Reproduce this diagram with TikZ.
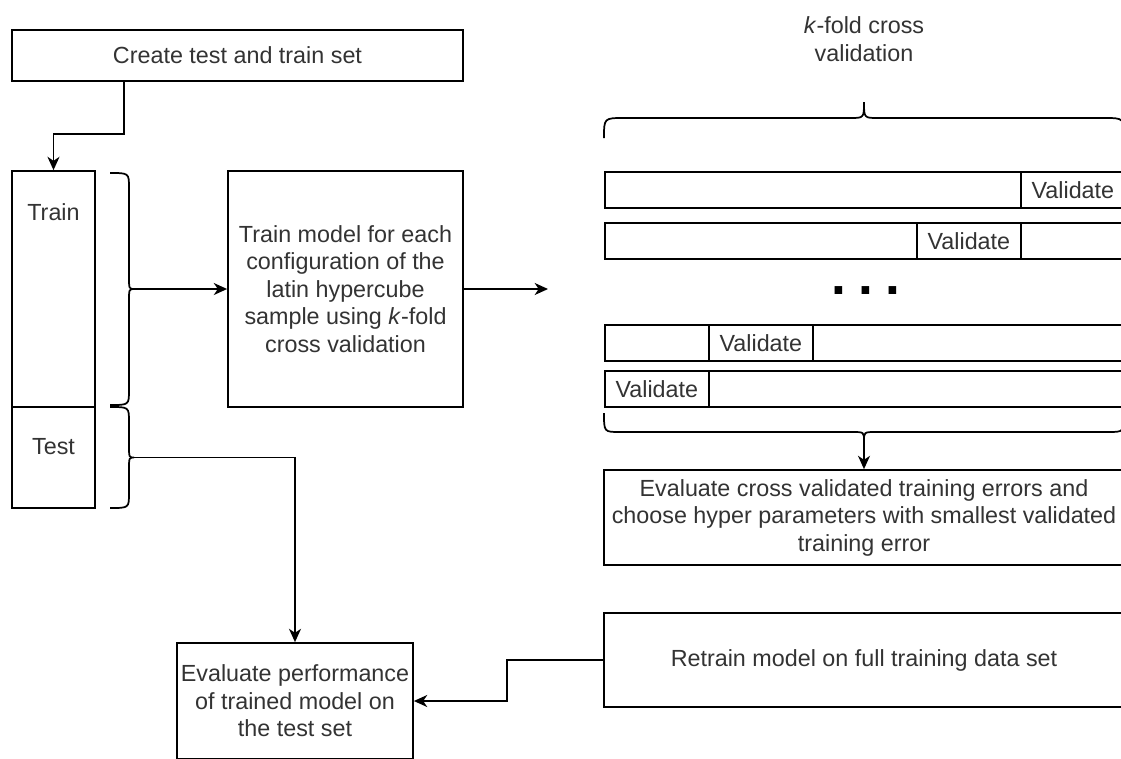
\documentclass[tikz,border=0pt]{standalone}
\usepackage{fontspec}
\setmainfont{Liberation Sans}
\usepackage{tikz}
\usetikzlibrary{calc, positioning, decorations.pathreplacing, arrows.meta}

\begin{document}
\begin{tikzpicture}
              [x=0.75pt, y=-0.75pt, line width=1.3pt, text=black!80,
               font=\fontsize{17.5}{20.6}\selectfont,
               box/.style={draw, inner sep=0pt, align=center},
               >={Stealth[length=10pt, width=9pt, inset=3pt]}]
              \useasboundingbox (0,0) rectangle (1121,758);
              \fill[white] (0,0) rectangle (1121,758);

              % nodes %
              \node[box, minimum width=338.25pt, minimum height=38.25pt] (split) at (237.5,55.5) {Create test and train set};
              \node[box, minimum width=62.25pt, minimum height=177pt] (train) at (53.5,289) {};
              \node[box, minimum width=62.25pt, minimum height=75.75pt] (test) at (53.5,457.5) {};
              \node (trainlbl) at ($(train.north)+(0,42)$) {Train};
              \node (testlbl) at ($(test.north)+(0,40)$) {Test};
              \node[box, minimum width=176.25pt, minimum height=177pt] (model) at (345.5,289)
                {Train model for each\\configuration of the\\latin hypercube\\sample using \textit{k}-fold\\cross validation};
              \coordinate (cvin) at (548,289);
              \node[align=center] (cvlbl) at (864,39) {\textit{k}-fold cross\\validation};

              % folds %
              \foreach \r/\y/\c in {1/171/4, 2/222/3, 3/324/1, 4/370/0} {
                \node[box, minimum width=390pt, minimum height=27pt, anchor=north west] (fold\r) at (604,\y) {};
                \node[box, minimum width=78pt, minimum height=27pt, anchor=north west] (val\r) at ({604+104*\c},\y) {Validate};
              }
              \node[font=\fontsize{40}{40}\selectfont\bfseries, text=black, anchor=base] (dots) at (866,294) {.\kern9pt.\kern9pt.};

              \node[box, minimum width=390pt, minimum height=71.25pt] (choose) at (864,517.5)
                {Evaluate cross validated training errors and\\choose hyper parameters with smallest validated\\training error};
              \node[box, minimum width=390pt, minimum height=70.5pt] (retrain) at (864,660) {Retrain model on full training data set};
              \node[box, minimum width=177pt, minimum height=87pt] (evalperf) at (295,701)
                {Evaluate performance\\of trained model on\\the test set};

              % braces %
              \draw (110,173) .. controls (129,173) .. (129,188) -- (129,276) .. controls (129,289) .. (134,289)
                .. controls (129,289) .. (129,302) -- (129,390) .. controls (129,405) .. (110,405);
              \draw (110,407) .. controls (129,407) .. (129,422) -- (129,445) .. controls (129,457.5) .. (134,457.5)
                .. controls (129,457.5) .. (129,470) -- (129,493) .. controls (129,508) .. (110,508);
              \draw (604,138) .. controls (604,118) .. (624,118) -- (850,118) .. controls (864,118) .. (864,102)
                .. controls (864,118) .. (878,118) -- (1104,118) .. controls (1124,118) .. (1124,138);
              \draw (604,413) .. controls (604,432) .. (620,432) -- (852,432) .. controls (864,432) .. (864,441)
                .. controls (864,432) .. (876,432) -- (1108,432) .. controls (1124,432) .. (1124,413);
              \coordinate (traintip) at (134,289);
              \coordinate (testtip) at (134,457.5);
              \coordinate (foldtip) at (864,441);

              % edges %
              \draw[->] ($(split.south west)!0.25!(split.south east)$) -- ++(0,52) -| (train.north);
              \draw[->] (traintip) -- (model.west);
              \draw[->] (model.east) -- (cvin);
              \draw[->] (testtip) -| (evalperf.north);
              \draw[->] (foldtip) -- (choose.north);
              \draw[->] (retrain.west) -- ++(-96,0) |- (evalperf.east);
            \end{tikzpicture}
\end{document}
